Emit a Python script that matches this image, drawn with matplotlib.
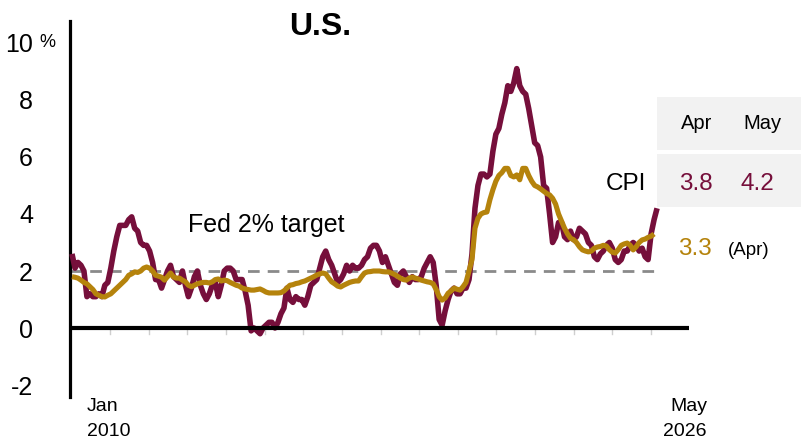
import matplotlib
matplotlib.use("Agg")
import matplotlib.pyplot as plt
import matplotlib.transforms as mtransforms
from matplotlib.patches import Rectangle
import numpy as np

plt.rcParams['font.family'] = ['Liberation Sans', 'DejaVu Sans']

# ---------------- data (monthly, Jan 2010 onward) ----------------
cpi = [
    2.6, 2.1, 2.3, 2.2, 2.0, 1.1, 1.2, 1.1, 1.1, 1.2, 1.1, 1.5,   # 2010
    1.6, 2.1, 2.7, 3.2, 3.6, 3.6, 3.6, 3.8, 3.9, 3.5, 3.4, 3.0,   # 2011
    2.9, 2.9, 2.7, 2.3, 1.7, 1.7, 1.4, 1.7, 2.0, 2.2, 1.8, 1.7,   # 2012
    1.6, 2.0, 1.5, 1.1, 1.4, 1.8, 2.0, 1.5, 1.2, 1.0, 1.2, 1.5,   # 2013
    1.6, 1.1, 1.5, 2.0, 2.1, 2.1, 2.0, 1.7, 1.7, 1.7, 1.3, 0.8,   # 2014
    -0.1, 0.0, -0.1, -0.2, 0.0, 0.1, 0.2, 0.2, 0.0, 0.2, 0.5, 0.7,  # 2015
    1.4, 1.0, 0.9, 1.1, 1.0, 1.0, 0.8, 1.1, 1.5, 1.6, 1.7, 2.1,   # 2016
    2.5, 2.7, 2.4, 2.2, 1.9, 1.6, 1.7, 1.9, 2.2, 2.0, 2.2, 2.1,   # 2017
    2.1, 2.2, 2.4, 2.5, 2.8, 2.9, 2.9, 2.7, 2.3, 2.5, 2.2, 1.9,   # 2018
    1.6, 1.5, 1.9, 2.0, 1.8, 1.6, 1.8, 1.7, 1.7, 1.8, 2.1, 2.3,   # 2019
    2.5, 2.3, 1.5, 0.3, 0.1, 0.6, 1.0, 1.3, 1.4, 1.2, 1.2, 1.4,   # 2020
    1.4, 1.7, 2.6, 4.2, 5.0, 5.4, 5.4, 5.3, 5.4, 6.2, 6.8, 7.0,   # 2021
    7.5, 7.9, 8.5, 8.3, 8.6, 9.1, 8.5, 8.3, 8.2, 7.7, 7.1, 6.5,   # 2022
    6.4, 6.0, 5.0, 4.9, 4.0, 3.0, 3.2, 3.7, 3.7, 3.2, 3.1, 3.4,   # 2023
    3.1, 3.2, 3.5, 3.4, 3.3, 3.0, 2.9, 2.5, 2.4, 2.6, 2.7, 2.9,   # 2024
    3.0, 2.8, 2.4, 2.3, 2.4, 2.7, 2.7, 2.9, 3.0, 2.9, 2.7, 2.8,   # 2025
    2.5, 2.4, 3.3, 3.8, 4.2,                                      # 2026 (Jan-May)
]

core = [
    1.80, 1.78, 1.75, 1.68, 1.60, 1.55, 1.45, 1.35, 1.20, 1.15, 1.10, 1.09,  # 2010
    1.15, 1.20, 1.30, 1.40, 1.50, 1.60, 1.70, 1.85, 1.90, 1.97, 1.95, 2.00,  # 2011
    2.10, 2.14, 2.10, 2.00, 1.85, 1.82, 1.78, 1.68, 1.80, 1.93, 1.79, 1.75,  # 2012
    1.75, 1.68, 1.62, 1.50, 1.45, 1.50, 1.55, 1.58, 1.60, 1.60, 1.58, 1.62,  # 2013
    1.70, 1.72, 1.65, 1.68, 1.66, 1.60, 1.55, 1.50, 1.47, 1.40, 1.37, 1.35,  # 2014
    1.33, 1.33, 1.35, 1.37, 1.32, 1.26, 1.23, 1.23, 1.23, 1.23, 1.24, 1.30,  # 2015
    1.40, 1.50, 1.52, 1.56, 1.58, 1.62, 1.65, 1.70, 1.75, 1.80, 1.86, 1.90,  # 2016
    1.93, 1.90, 1.75, 1.62, 1.55, 1.47, 1.44, 1.50, 1.55, 1.60, 1.63, 1.65,  # 2017
    1.65, 1.80, 1.93, 1.97, 1.98, 2.00, 2.00, 2.00, 1.98, 1.97, 1.97, 1.93,  # 2018
    1.88, 1.82, 1.75, 1.70, 1.68, 1.75, 1.79, 1.75, 1.72, 1.68, 1.65, 1.62,  # 2019
    1.60, 1.55, 1.35, 1.10, 0.98, 1.05, 1.22, 1.30, 1.40, 1.36, 1.33, 1.45,  # 2020
    1.60, 2.00, 2.40, 3.50, 3.85, 4.00, 4.05, 4.07, 4.50, 4.85, 5.15, 5.35,  # 2021
    5.45, 5.60, 5.60, 5.35, 5.30, 5.37, 5.20, 5.60, 5.60, 5.35, 5.15, 5.00,  # 2022
    4.95, 4.88, 4.80, 4.72, 4.67, 4.55, 4.35, 4.00, 3.75, 3.50, 3.30, 3.15,  # 2023
    3.10, 3.00, 2.85, 2.74, 2.70, 2.67, 2.70, 2.80, 2.84, 2.86, 2.90, 2.88,  # 2024
    2.75, 2.66, 2.63, 2.75, 2.90, 2.95, 2.98, 2.90, 2.74, 2.85, 3.00, 3.09,  # 2025
    3.12, 3.18, 3.22, 3.30,                                                  # 2026 (Jan-Apr)
]

yticks = [-2, 0, 2, 4, 6, 8, 10]
ytick_labels = ["-2", "0", "2", "4", "6", "8", "10"]
target = 2
table_months = ["Apr", "May"]
start_label = ["Jan", "2010"]
end_label = ["May", "2026"]

MAROON = "#760f3b"
GOLD = "#b5830c"

W, H = 807, 446
fig = plt.figure(figsize=(W / 100, H / 100), dpi=100)


def fx(x):
    return x / W


def fy(y):
    return 1 - y / H


# table boxes (drawn beneath the axes)
fig.add_artist(Rectangle((fx(657), fy(150)), 144 / W, 53 / H,
                         transform=fig.transFigure, facecolor="#f2f2f2",
                         edgecolor="none", zorder=-1))
fig.add_artist(Rectangle((fx(657), fy(207)), 144 / W, 53 / H,
                         transform=fig.transFigure, facecolor="#f2f2f2",
                         edgecolor="none", zorder=-1))

ax = fig.add_axes([fx(70), fy(397), 619 / W, 376 / H])
ax.patch.set_visible(False)
ax.set_xlim(-0.67, 206.7)
ax.set_ylim(-2.42, 10.77)

for s in ["top", "right", "bottom"]:
    ax.spines[s].set_visible(False)
ax.spines["left"].set_linewidth(2.3)
ax.spines["left"].set_color("black")

ax.set_xticks([])
ax.set_yticks(yticks)
ax.set_yticklabels(ytick_labels)
ax.tick_params(axis="y", length=0, pad=26.6, labelsize=18)

# target line
ax.hlines(target, -0.67, len(cpi) - 1 + 0.3, colors="#8a8a8a", lw=2,
          linestyles=(0, (4.2, 2.9)), zorder=2)

# series
xc = np.arange(len(cpi))
xk = np.arange(len(core))
ax.plot(xc, cpi, color=MAROON, lw=4.0, solid_joinstyle="round",
        solid_capstyle="butt", zorder=3, clip_on=False)
ax.plot(xk, core, color=GOLD, lw=3.7, solid_joinstyle="round",
        solid_capstyle="butt", zorder=4, clip_on=False)

# zero line
ax.axhline(0, color="black", lw=3, zorder=5)

# small year ticks below the zero line
blend = mtransforms.blended_transform_factory(ax.transAxes, ax.transData)
for f in np.linspace((110 - 70) / 619, (651 - 70) / 619, 15):
    ax.plot([f, f], [-0.08, -0.22], color="#cfcfcf", lw=1, transform=blend,
            clip_on=False, zorder=1)

# percent sign next to the top label
pblend = mtransforms.blended_transform_factory(fig.transFigure, ax.transData)
ax.text(fx(39), 10, "%", transform=pblend, fontsize=13, ha="left", va="center")

# title and annotations
fig.text(fx(320), fy(27), "U.S.", ha="center", va="center", fontsize=23,
         fontweight="bold")
fig.text(fx(188), fy(232), "Fed 2% target", ha="left", va="baseline",
         fontsize=18)

fig.text(fx(87), fy(411), start_label[0], ha="left", va="baseline", fontsize=14)
fig.text(fx(87), fy(436), start_label[1], ha="left", va="baseline", fontsize=14)
fig.text(fx(707), fy(411), end_label[0], ha="right", va="baseline", fontsize=14)
fig.text(fx(707), fy(436), end_label[1], ha="right", va="baseline", fontsize=14)

fig.text(fx(697), fy(129), table_months[0], ha="center", va="baseline",
         fontsize=14.5)
fig.text(fx(762), fy(129), table_months[1], ha="center", va="baseline",
         fontsize=14.5)
fig.text(fx(646), fy(190), "CPI", ha="right", va="baseline", fontsize=17.5)
fig.text(fx(696), fy(190), f"{cpi[-2]:.1f}", ha="center", va="baseline",
         fontsize=17.5, color=MAROON)
fig.text(fx(757), fy(190), f"{cpi[-1]:.1f}", ha="center", va="baseline",
         fontsize=17.5, color=MAROON)
fig.text(fx(695), fy(255), f"{core[-1]:.1f}", ha="center", va="baseline",
         fontsize=17.5, color=GOLD)
fig.text(fx(728), fy(255), "(Apr)", ha="left", va="baseline", fontsize=13.5)

fig.savefig("out.png", dpi=100)
